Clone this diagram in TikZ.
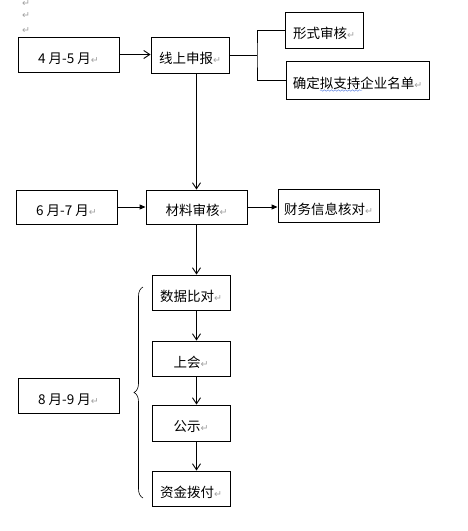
\documentclass[tikz,border=0pt]{standalone}
\usepackage{fontspec}
\setmainfont{Noto Sans CJK SC}
\newfontfamily\markfont{DejaVu Sans}
\usetikzlibrary{arrows.meta,decorations.pathreplacing,decorations.pathmorphing}
\definecolor{markgray}{RGB}{160,160,160}
\definecolor{spellblue}{RGB}{80,120,220}
\newcommand{\retmark}{{\markfont\color{markgray}\fontsize{9.5}{9.5}\selectfont ↵}}
\tikzset{
  box/.style={draw,line width=0.9pt,inner sep=0pt,text height=18pt,text depth=1pt,
    font=\fontsize{13.5}{16}\selectfont},
  openarr/.style={line width=0.9pt,-{Straight Barb[length=6pt,width=8pt]}},
  fillarr/.style={line width=0.9pt,-{Triangle[length=6pt,width=5pt]}}
}

\begin{document}
\begin{tikzpicture}[x=1pt,y=-1pt]
\useasboundingbox (0,0) rectangle (467,531);
\foreach \y [count=\i] in {4,16,31} \node (r\i) at (26,\y) {\retmark};
% first stage
\node[box,minimum width=101,minimum height=35] (apr) at (68.5,54.5) {4 月-5 月\retmark};
\node[box,minimum width=78,minimum height=36] (online) at (190,55) {线上申报\retmark};
\node[box,minimum width=78,minimum height=36] (form) at (324,30) {形式审核\retmark};
\node[box,minimum width=143,minimum height=38] (list) at (357.5,80) {确定拟支持企业名单\retmark};
\coordinate (fork) at (257,55);
\draw[openarr] (apr.east) -- (apr.east -| online.west);
\draw[line width=0.9pt] (online.east) -- (fork);
\draw[line width=0.9pt] (form.west) -| (fork) |- (list.west);
\draw[spellblue,decorate,decoration={snake,amplitude=0.8pt,segment length=3.5pt}] (320,90.5) -- (362,90.5);
% second stage
\node[box,minimum width=101,minimum height=34] (jun) at (66.5,207) {6 月-7 月\retmark};
\node[box,minimum width=101,minimum height=34] (review) at (196.5,207) {材料审核\retmark};
\node[box,minimum width=101,minimum height=33] (finance) at (328.5,205.5) {财务信息核对\retmark};
\draw[openarr] (online.south -| review.north) -- (review.north);
\draw[fillarr] (jun.east) -- (jun.east -| review.west);
\draw[fillarr] (review.east) -- (review.east -| finance.west);
% third stage
\node[box,minimum width=101,minimum height=35] (aug) at (68.5,395.5) {8 月-9 月\retmark};
\node[box,minimum width=78,minimum height=35] (data) at (191,292.5) {数据比对\retmark};
\node[box,minimum width=78,minimum height=35] (meet) at (191,358.5) {上会\retmark};
\node[box,minimum width=78,minimum height=36] (publish) at (191,423) {公示\retmark};
\node[box,minimum width=78,minimum height=35] (fund) at (191,488.5) {资金拨付\retmark};
\draw[openarr] (review.south) -- (review.south |- data.north);
\foreach \a/\b in {data/meet,meet/publish,publish/fund}
  \draw[openarr] (\a.south -| review) -- (\b.north -| review);
\draw[line width=0.6pt,decorate,decoration={brace,amplitude=9pt}] (143,498) -- (143,287);
\end{tikzpicture}
\end{document}
